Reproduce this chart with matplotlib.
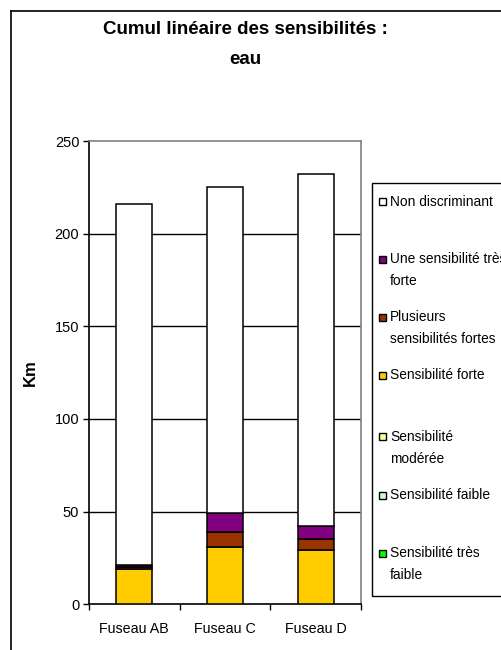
import matplotlib
matplotlib.use("Agg")
import matplotlib.pyplot as plt
from matplotlib.patches import Rectangle
from matplotlib.lines import Line2D
import numpy as np

plt.rcParams['font.family'] = ['Liberation Sans', 'DejaVu Sans']

# Km per corridor and sensitivity class (stacked bottom to top)
fuseaux = ["Fuseau AB", "Fuseau C", "Fuseau D"]
tres_faible = [0, 0, 0]
faible = [0, 0, 0]
moderee = [0, 0, 0]
forte = [18.8, 30.7, 29.1]
plusieurs_fortes = [1.2, 8.3, 5.9]
une_tres_forte = [1.3, 10.2, 7.2]
non_discriminant = [195.1, 176.4, 190.0]

series = [
    ("Sensibilité très faible", tres_faible, "#00ff00"),
    ("Sensibilité faible", faible, "#ccffcc"),
    ("Sensibilité modérée", moderee, "#ffff99"),
    ("Sensibilité forte", forte, "#ffcc00"),
    ("Plusieurs sensibilités fortes", plusieurs_fortes, "#993300"),
    ("Une sensibilité très forte", une_tres_forte, "#800080"),
    ("Non discriminant", non_discriminant, "#ffffff"),
]

W, H = 502, 650
fig = plt.figure(figsize=(W / 100, H / 100), dpi=100)

def fx(px):
    return px / W

def fy(py):
    return 1 - py / H

# chart frame (cut off on right and bottom)
fig.add_artist(Line2D([fx(11), fx(11)], [fy(11), 0], color="black", lw=1.2,
                      transform=fig.transFigure))
fig.add_artist(Line2D([fx(11), 1], [fy(11), fy(11)], color="black", lw=1.2,
                      transform=fig.transFigure))

ax = fig.add_axes([fx(89), fy(604), fx(361) - fx(89), fy(141.5) - fy(604)])

x = np.arange(len(fuseaux))
bottom = np.zeros(len(fuseaux))
for name, vals, col in series:
    vals = np.array(vals, dtype=float)
    ax.bar(x, vals, 0.4, bottom=bottom, color=col, edgecolor="black",
           linewidth=1.1, zorder=3)
    bottom += vals

ax.set_xlim(-0.5, 2.5)
ax.set_ylim(0, 250)
ax.set_yticks([0, 50, 100, 150, 200, 250])
ax.tick_params(axis="y", direction="out", length=4, width=1, labelsize=10.5, pad=3)
ax.set_xticks(x)
ax.set_xticklabels(fuseaux, fontsize=10.3)
ax.tick_params(axis="x", which="major", length=0, pad=13)
ax.set_xticks([-0.5, 0.5, 1.5, 2.5], minor=True)
ax.tick_params(axis="x", which="minor", direction="out", length=4, width=1)

for v in [50, 100, 150, 200]:
    ax.axhline(v, color="black", lw=1, zorder=1)

ax.spines["left"].set_color("black")
ax.spines["bottom"].set_color("black")
ax.spines["top"].set_color("#808080")
ax.spines["right"].set_color("#808080")
for s in ax.spines.values():
    s.set_linewidth(1.2)

ax.set_ylabel("Km", fontsize=12, fontweight="bold", labelpad=12)

fig.text(fx(245), fy(30), "Cumul linéaire des sensibilités :", ha="center",
         va="center", fontsize=13.5, fontweight="bold")
fig.text(fx(245), fy(60), "eau", ha="center", va="center", fontsize=13.5,
         fontweight="bold")

# legend box
fig.add_artist(Rectangle((fx(372), fy(596)), 1 - fx(372) + 0.01, fy(183) - fy(596),
                         transform=fig.transFigure, facecolor="white",
                         edgecolor="black", lw=1))
legend_rows = [
    ("#ffffff", ["Non discriminant"], 201.7),
    ("#800080", ["Une sensibilité très", "forte"], 259.0),
    ("#993300", ["Plusieurs", "sensibilités fortes"], 317.3),
    ("#ffcc00", ["Sensibilité forte"], 375.0),
    ("#ffff99", ["Sensibilité", "modérée"], 436.7),
    ("#ccffcc", ["Sensibilité faible"], 495.0),
    ("#00ff00", ["Sensibilité très", "faible"], 553.3),
]
for col, lines, ypos in legend_rows:
    fig.add_artist(Rectangle((fx(379), fy(ypos + 3.5)), fx(7), 7 / H,
                             transform=fig.transFigure, facecolor=col,
                             edgecolor="black", lw=1))
    for i, t in enumerate(lines):
        fig.text(fx(390), fy(ypos + 22 * i), t, ha="left", va="center",
                 fontsize=9.9)

fig.savefig("out.png", dpi=100)
